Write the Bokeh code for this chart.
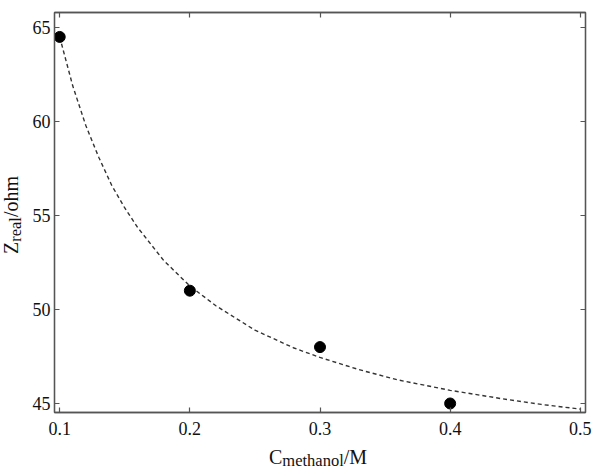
from bokeh.plotting import figure
from bokeh.models import LinearAxis, Range1d, FixedTicker, CustomJSTickFormatter, ColumnDataSource, Div
from bokeh.layouts import row, column
from bokeh.embed import file_html
from bokeh.resources import INLINE

# ---- data ----
conc = [0.1, 0.2, 0.3, 0.4]
z_real = [64.5, 51.0, 48.0, 45.0]

fit_conc = [0.10, 0.11, 0.12, 0.13, 0.14, 0.15, 0.16, 0.18, 0.20, 0.22,
            0.25, 0.28, 0.30, 0.33, 0.36, 0.40, 0.44, 0.47, 0.50]
fit_z = [64.5, 61.9, 59.8, 58.1, 56.6, 55.4, 54.35, 52.6, 51.25, 50.2,
         48.9, 47.95, 47.45, 46.8, 46.25, 45.7, 45.25, 44.95, 44.7]

x_ticks = [0.1, 0.2, 0.3, 0.4, 0.5]
y_ticks = [45, 50, 55, 60, 65]

x_label_main, x_label_sub, x_label_tail = "C", "methanol", "/M"
y_label_main, y_label_sub, y_label_tail = "Z", "real", "/ohm"

# ---- layout ----
W, H = 593, 469
YLAB_W = 26            # strip that holds the rotated y-axis title
XLAB_H = 24            # strip that holds the x-axis title
PW, PH = W - YLAB_W, H - XLAB_H
L, R, T, B = 54 - YLAB_W, 8, 12, PH - 412
X0, X1 = 0.096, 0.504
Y0, Y1 = 44.52, 65.8

FONT = "Liberation Serif"
CSS_FONT = "'Liberation Serif','Times New Roman',serif"
FRAME = "#555555"
TEXT = "#111111"

p = figure(width=PW, height=PH, x_range=Range1d(X0, X1), y_range=Range1d(Y0, Y1),
           output_backend="svg", toolbar_location=None,
           min_border_left=L, min_border_right=R, min_border_top=T, min_border_bottom=B)
p.xgrid.visible = False
p.ygrid.visible = False
p.outline_line_color = FRAME
p.outline_line_width = 1.3
p.background_fill_color = "white"
p.border_fill_color = "white"

def style_axis(ax, ticks, show_labels):
    ax.ticker = FixedTicker(ticks=ticks)
    ax.axis_line_color = FRAME
    ax.axis_line_width = 1.3
    ax.major_tick_in = 5
    ax.major_tick_out = 0
    ax.major_tick_line_color = FRAME
    ax.major_tick_line_width = 1.2
    ax.minor_tick_in = 0
    ax.minor_tick_out = 0
    ax.major_label_text_font = FONT
    ax.major_label_text_font_size = "18px"
    ax.major_label_text_color = TEXT
    if not show_labels:
        ax.formatter = CustomJSTickFormatter(code="return ''")
        ax.major_label_standoff = 0

style_axis(p.xaxis[0], x_ticks, True)
style_axis(p.yaxis[0], y_ticks, True)
p.xaxis[0].major_label_standoff = 9
p.yaxis[0].major_label_standoff = 4

top = LinearAxis()
style_axis(top, x_ticks, False)
p.add_layout(top, "above")
right = LinearAxis()
style_axis(right, y_ticks, False)
p.add_layout(right, "right")

# fitted curve
fit_src = ColumnDataSource(dict(x=fit_conc, y=fit_z))
p.line("x", "y", source=fit_src, line_color="#333333", line_width=1.4, line_dash="4 3")

# measured points
pt_src = ColumnDataSource(dict(x=conc, y=z_real))
p.scatter("x", "y", source=pt_src, size=11, fill_color="black", line_color="black")

# ---- axis titles with real subscripts (HTML text) ----
base_style = (f"position:absolute; font-family:{CSS_FONT}; font-size:20px; line-height:16px; "
              f"color:{TEXT}; white-space:nowrap; margin:0; padding:0;")
x_sub_style = "font-size:16.5px; line-height:16px; position:relative; top:2px;"
y_sub_style = "font-size:16.5px; line-height:16px; position:relative; top:3px;"

x_html = (f'<div style="{base_style} left:{269 - YLAB_W}px; top:4px;">'
          f'{x_label_main}<span style="{x_sub_style}">{x_label_sub}</span>{x_label_tail}</div>')
y_html = (f'<div style="{base_style} left:3px; top:254px; transform:rotate(-90deg); '
          f'transform-origin:0 0;">'
          f'{y_label_main}<span style="{y_sub_style}">{y_label_sub}</span>{y_label_tail}</div>')

xdiv = Div(text=x_html, width=PW, height=XLAB_H, margin=(0, 0, 0, 0),
           styles={"position": "relative", "overflow": "visible"})
ydiv = Div(text=y_html, width=YLAB_W, height=H, margin=(0, 0, 0, 0),
           styles={"position": "relative", "overflow": "visible"})

layout = row(ydiv, column(p, xdiv, spacing=0), spacing=0)

open("out.html", "w").write(file_html(layout, INLINE))
